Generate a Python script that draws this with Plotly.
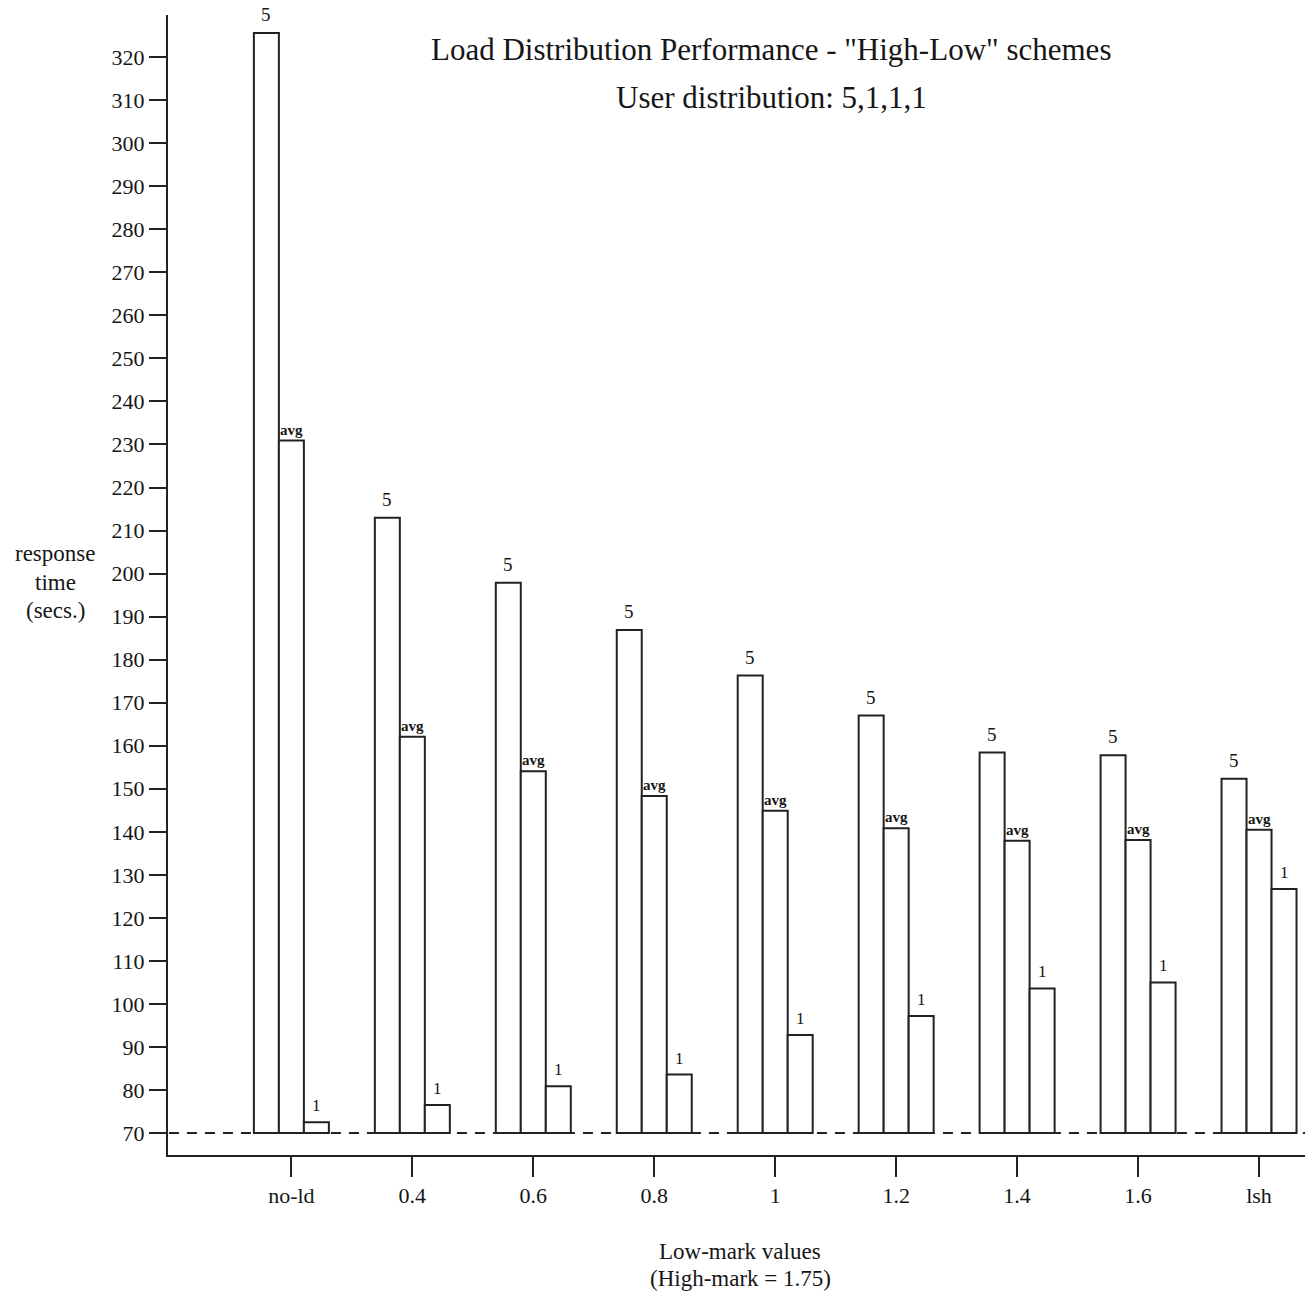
import plotly.graph_objects as go

# Low-mark settings on the x axis
categories = ["no-ld", "0.4", "0.6", "0.8", "1", "1.2", "1.4", "1.6", "lsh"]

# Response times (secs.) per user group
resp_5 = [325.6, 213.0, 197.9, 186.9, 176.3, 167.0, 158.4, 157.8, 152.3]
resp_avg = [230.9, 162.1, 154.1, 148.3, 144.9, 140.8, 137.9, 138.1, 140.5]
resp_1 = [72.5, 76.5, 80.9, 83.6, 92.8, 97.2, 103.6, 105.0, 126.7]

series_labels = ["5", "avg", "1"]
baseline = 70
y_ticks = list(range(70, 330, 10))

FONT = "Liberation Serif, Times New Roman, serif"
INK = "#161616"

BARGAP = 0.38
bar_w = (1 - BARGAP) / 3  # width of one bar in category units

fig = go.Figure()
series = [resp_5, resp_avg, resp_1]
for label, values in zip(series_labels, series):
    fig.add_trace(go.Bar(
        x=categories,
        y=[v - baseline for v in values],
        base=baseline,
        name=label,
        marker=dict(color="white", line=dict(color="#222", width=2)),
        hoverinfo="skip",
    ))

# series label above each bar
label_style = {"5": (19, 6), "avg": (15, 1), "1": (17, 5)}
for k, (label, values) in enumerate(zip(series_labels, series)):
    size, lift = label_style[label]
    txt = f"<b>{label}</b>" if label == "avg" else label
    for i, v in enumerate(values):
        fig.add_annotation(
            x=i + (k - 1) * bar_w, y=v, xref="x", yref="y",
            text=txt, showarrow=False, xanchor="center", yanchor="bottom",
            yshift=lift, font=dict(family=FONT, size=size, color=INK),
        )

# dashed baseline at 70 secs
fig.add_shape(type="line", xref="paper", yref="y", x0=-0.015, x1=1, y0=baseline, y1=baseline,
              line=dict(color="#222", width=2, dash="10px,8px"))

fig.update_layout(
    width=1316, height=1301,
    margin=dict(l=168, r=11, t=15, b=146),
    paper_bgcolor="white", plot_bgcolor="white",
    barmode="group", bargap=BARGAP, bargroupgap=0,
    showlegend=False,
    font=dict(family=FONT, color=INK),
)

fig.update_xaxes(
    range=[-1.02, 8.38],
    showline=True, linecolor="#222", linewidth=2,
    ticks="outside", ticklen=20, tickwidth=2, tickcolor="#222",
    tickfont=dict(family=FONT, size=22, color=INK),
    showgrid=False, zeroline=False,
)
fig.update_yaxes(
    range=[64.9, 329.8],
    tickvals=y_ticks,
    showline=True, linecolor="#222", linewidth=2,
    ticks="outside", ticklen=17, tickwidth=2, tickcolor="#222",
    tickfont=dict(family=FONT, size=22, color=INK),
    showgrid=False, zeroline=False,
)

# titles and axis captions, one annotation per line (pixel centres converted to paper units)
PLOT_L, PLOT_W, PLOT_B, PLOT_H = 168, 1137, 1155, 1140


def px(x, y):
    return (x - PLOT_L) / PLOT_W, (PLOT_B - y) / PLOT_H


text_lines = [
    ('Load Distribution Performance - "High-Low" schemes', 771, 50, 31),
    ("User distribution: 5,1,1,1", 771, 97, 31),
    ("response", 55, 553, 23),
    ("time", 55, 582, 23),
    ("(secs.)", 55, 610, 23),
    ("Low-mark values", 740, 1251, 23),
    ("(High-mark = 1.75)", 740, 1278, 23),
]
for text, cx, cy, size in text_lines:
    ax, ay = px(cx, cy)
    fig.add_annotation(xref="paper", yref="paper", x=ax, y=ay, text=text,
                       xanchor="center", yanchor="middle", showarrow=False,
                       font=dict(family=FONT, size=size, color=INK))

fig.write_html("out.html")
